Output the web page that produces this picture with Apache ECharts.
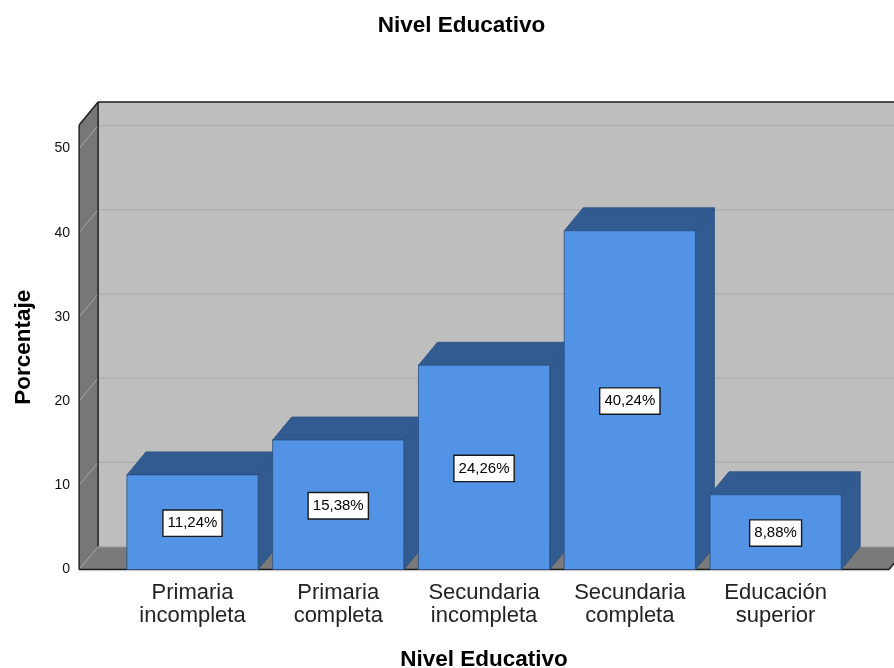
<!DOCTYPE html>
<html><head><meta charset="utf-8">
<style>html,body{margin:0;padding:0;background:#fff}#c{width:894px;height:668px}</style>
<script src="https://cdn.jsdelivr.net/npm/echarts@6/dist/echarts.min.js"></script>
</head><body><div id="c"></div>
<script>
const chartTitle = 'Nivel Educativo';
const xTitle = 'Nivel Educativo';
const yTitle = 'Porcentaje';
const categories = ['Primaria\nincompleta','Primaria\ncompleta','Secundaria\nincompleta','Secundaria\ncompleta','Educación\nsuperior'];
const values = [11.24,15.38,24.26,40.24,8.88];
const yTicks = [0,10,20,30,40,50];
const yMax = 52.8;

const DX = 19, DY = 23, PAD = 40.5;
const FONT = '"Liberation Sans", Arial, sans-serif';
const chart = echarts.init(document.getElementById('c'), null, {renderer:'canvas'});

function poly(pts, fill, stroke, lw){
  return {type:'polygon', shape:{points:pts}, style:{fill:fill, stroke:stroke||null, lineWidth:lw||0}};
}
function line(a,b,color,lw){
  return {type:'line', shape:{x1:a[0],y1:a[1],x2:b[0],y2:b[1]}, style:{stroke:color,lineWidth:lw,fill:null}};
}
function renderFrame(params, api){
  const band = api.size([1,0])[0];
  const p0 = api.coord([0,0]);
  const pT = api.coord([0,yMax]);
  const pE = api.coord([categories.length-1,0]);
  const L = p0[0]-band/2-PAD, R = pE[0]+band/2+PAD, B = p0[1], T = pT[1];
  const kids = [
    poly([[L+DX,T-DY],[R+DX,T-DY],[R+DX,B-DY],[L+DX,B-DY]],'#bebebe'),
    poly([[L,T],[L+DX,T-DY],[L+DX,B-DY],[L,B]],'#777777'),
    poly([[L,B],[L+DX,B-DY],[R+DX,B-DY],[R,B]],'#7a7a7a')
  ];
  yTicks.forEach(function(t){
    const y = api.coord([0,t])[1];
    kids.push(line([L,y],[L+DX,y-DY],'#a6a6a6',1));
    kids.push(line([L+DX,y-DY],[R+DX,y-DY],'#afafaf',1.4));
  });
  kids.push(line([L+DX,T-DY],[R+DX,T-DY],'#1a1a1a',1.4));
  kids.push(line([L,T],[L+DX,T-DY],'#1a1a1a',1.4));
  kids.push(line([L,T],[L,B],'#1a1a1a',1.4));
  kids.push(line([L+DX,T-DY],[L+DX,B-DY],'#1a1a1a',1.4));
  kids.push(line([L,B],[R,B],'#1a1a1a',1.4));
  kids.push(line([R,B],[R+DX,B-DY],'#1a1a1a',1.4));
  kids.push(line([L,B+1.2],[R,B+1.2],'#c8c8c8',1));
  return {type:'group', children:kids};
}
function renderBar(params, api){
  const i = api.value(0), v = api.value(1);
  const top = api.coord([i,v]), base = api.coord([i,0]);
  const w = api.size([1,0])[0]*0.9;
  const l = top[0]-w/2, r = top[0]+w/2, t = top[1], b = base[1];
  const edge = '#2c4f7c';
  return {type:'group', children:[
    poly([[r,t],[r+DX,t-DY],[r+DX,b-DY],[r,b]],'#325c91',edge,0.8),
    poly([[l,t],[l+DX,t-DY],[r+DX,t-DY],[r,t]],'#325c91',edge,0.8),
    poly([[l,t],[r,t],[r,b],[l,b]],'#5393e6',edge,0.8),
    {type:'text', x:top[0], y:(t+b)/2+1, z2:10, style:{
      text:v.toFixed(2).replace('.',',')+'%', font:'15px '+FONT, fill:'#000',
      align:'center', verticalAlign:'middle',
      backgroundColor:'#fff', borderColor:'#1a1a1a', borderWidth:1.4,
      padding:[5,4,5,4]
    }}
  ]};
}
chart.setOption({
  animation:false,
  backgroundColor:'#fff',
  title:{text:chartTitle, left:456.5, top:9, textAlign:'center',
    textStyle:{fontFamily:FONT,fontSize:22.5,fontWeight:'bold',color:'#000'}},
  grid:{left:119.6,right:45.5,top:125,bottom:98.5,outerBoundsMode:'none'},
  xAxis:{type:'category',data:categories,
    axisLine:{show:false},axisTick:{show:false},
    axisLabel:{fontFamily:FONT,fontSize:22,lineHeight:23,color:'#222',margin:12,interval:0},
    name:xTitle,nameLocation:'middle',nameGap:79,
    nameTextStyle:{fontFamily:FONT,fontSize:22.5,fontWeight:'bold',color:'#000'}},
  yAxis:{type:'value',min:0,max:yMax,interval:10,offset:40.6,
    axisLine:{show:false},axisTick:{show:false},splitLine:{show:false},
    axisLabel:{fontFamily:FONT,fontSize:14,color:'#111',margin:9,showMaxLabel:false,padding:[2,0,0,0]},
    name:yTitle,nameLocation:'middle',nameGap:44,
    nameTextStyle:{fontFamily:FONT,fontSize:22.5,fontWeight:'bold',color:'#000'}},
  series:[
    {type:'custom',coordinateSystem:'cartesian2d',renderItem:renderFrame,data:[[0,0]],silent:true,z:1},
    {type:'custom',coordinateSystem:'cartesian2d',renderItem:renderBar,z:2,
      encode:{x:0,y:1},data:values.map(function(v,i){return [i,v];})}
  ]
});
</script></body></html>
